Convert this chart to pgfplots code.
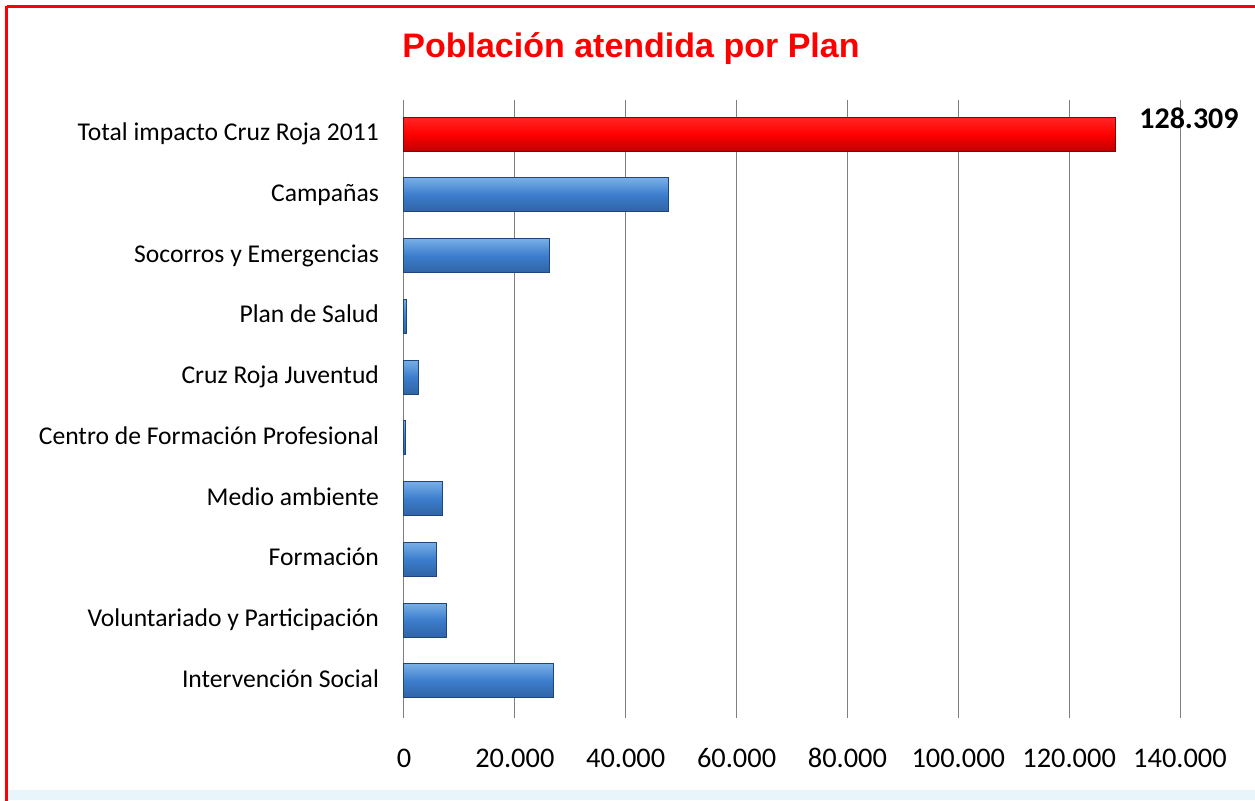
\documentclass[border=0pt]{standalone}
\usepackage{pgfplots}
\pgfplotsset{compat=1.18}
\usepackage{fontspec}
\setmainfont{Carlito}
\newfontfamily\titlefont{Liberation Sans}
\definecolor{barblue}{RGB}{60,125,205}
\definecolor{bluedark}{RGB}{30,70,125}
\definecolor{bluelight}{RGB}{120,175,230}
\definecolor{gridgray}{RGB}{128,128,128}
\definecolor{stripblue}{RGB}{232,246,252}
\pgfplotsset{
  bluebar/.style={bar shift=0pt, draw=bluedark, line width=0.5pt,
    top color=bluelight, bottom color=barblue!80!black, middle color=barblue},
}
\begin{document}
\begin{tikzpicture}
\begin{scope}[x=0.5pt,y=-0.5pt]
% frame, 1 unit = 1 px of the reference
\useasboundingbox (0,0) rectangle (1255,800);
\fill[white] (0,0) rectangle (1255,800);
\fill[stripblue] (6,790) rectangle (1260,800);
\draw[red, line width=1.5pt] (6.5,6) -- (1262,6);
\draw[red, line width=1.5pt] (6.5,6) -- (6.5,805);
\node[font=\titlefont\bfseries\fontsize{17}{20}\selectfont, text=red] at (631,49) {Población atendida por Plan};
\end{scope}
\begin{axis}[
  at={(202pt,-50pt)}, anchor=north west,
  scale only axis,
  width=388pt, height=309pt,
  xbar, bar width=0.56,
  xmin=0, xmax=140000,
  ymin=-0.61, ymax=9.56,
  xtick={0,20000,...,140000},
  ytick={0,...,9},
  yticklabels={Intervención Social, Voluntariado y Participación, Formación, Medio ambiente, Centro de Formación Profesional, Cruz Roja Juventud, Plan de Salud, Socorros y Emergencias, Campañas, Total impacto Cruz Roja 2011},
  scaled x ticks=false,
  xticklabel style={/pgf/number format/fixed, /pgf/number format/precision=0, /pgf/number format/1000 sep={.}, /pgf/number format/assume math mode=true, anchor=north, text height=9pt, text depth=0pt, yshift=-12pt, font=\fontsize{14.2}{16}\selectfont},
  yticklabel style={xshift=-9pt, anchor=east, text height=9pt, text depth=2.5pt, font=\fontsize{12.8}{15}\selectfont},
  major tick length=0pt,
  axis line style={draw=none},
  xmajorgrids=true,
  grid style={gridgray, line width=0.5pt},
  clip=false,
]
\addplot[bluebar] coordinates {(27060,0)};
\addplot[bluebar] coordinates {(7580,1)};
\addplot[bluebar] coordinates {(5950,2)};
\addplot[bluebar] coordinates {(6860,3)};
\addplot[bluebar] coordinates {(200,4)};
\addplot[bluebar] coordinates {(2700,5)};
\addplot[bluebar] coordinates {(400,6)};
\addplot[bluebar] coordinates {(26160,7)};
\addplot[bluebar] coordinates {(47630,8)};
\addplot[bar shift=0pt, draw=red!55!black, line width=0.5pt, top color=red!85!white, bottom color=red!75!black, middle color=red,
  nodes near coords,
  nodes near coords style={/pgf/number format/fixed, /pgf/number format/precision=0, /pgf/number format/1000 sep={.}, /pgf/number format/assume math mode=true, anchor=west, xshift=8.5pt, yshift=8pt, font=\bfseries\fontsize{15}{17}\selectfont, text=black}]
  coordinates {(128309,9)};
\end{axis}
\end{tikzpicture}
\end{document}
